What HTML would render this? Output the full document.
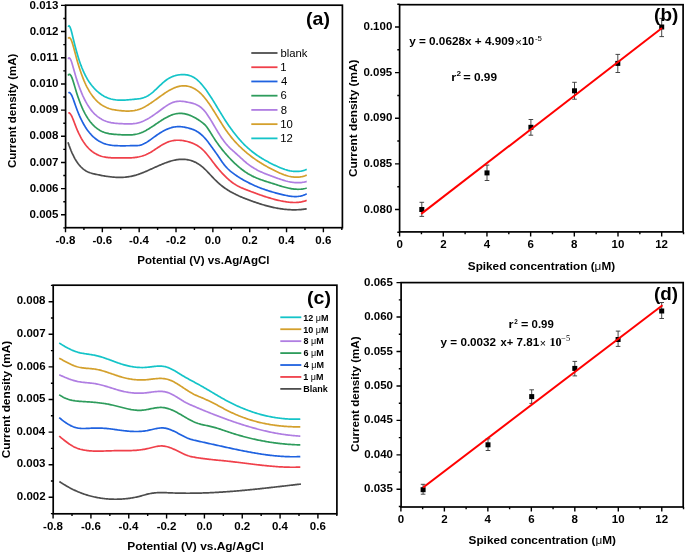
<!DOCTYPE html>
<html><head><meta charset="utf-8"><style>
html,body{margin:0;padding:0;background:#fff;}
svg{display:block;will-change:transform;}
</style></head><body>
<svg width="685" height="554" viewBox="0 0 685 554">
<rect width="685" height="554" fill="#fff"/>
<path d="M68.00,142.22L69.00,145.17L70.00,147.91L71.00,150.46L72.00,152.81L73.00,154.99L74.00,156.99L75.00,158.84L76.00,160.53L77.00,162.08L78.00,163.49L79.00,164.78L80.00,165.95L81.00,167.01L82.00,167.97L83.00,168.84L84.00,169.61L85.00,170.30L86.00,170.91L87.00,171.45L88.00,171.93L89.00,172.36L90.00,172.73L91.00,173.06L92.00,173.36L93.00,173.63L94.00,173.87L95.00,174.10L96.00,174.32L97.00,174.53L98.00,174.74L99.00,174.95L100.00,175.15L101.00,175.35L102.00,175.54L103.00,175.72L104.00,175.90L105.00,176.06L106.00,176.23L107.00,176.38L108.00,176.52L109.00,176.66L110.00,176.78L111.00,176.90L112.00,177.00L113.00,177.09L114.00,177.17L115.00,177.24L116.00,177.30L117.00,177.34L118.00,177.37L119.00,177.39L120.00,177.39L121.00,177.38L122.00,177.35L123.00,177.30L124.00,177.24L125.00,177.17L126.00,177.07L127.00,176.96L128.00,176.83L129.00,176.68L130.00,176.51L131.00,176.32L132.00,176.11L133.00,175.88L134.00,175.63L135.00,175.36L136.00,175.08L137.00,174.77L138.00,174.44L139.00,174.10L140.00,173.75L141.00,173.38L142.00,172.99L143.00,172.60L144.00,172.19L145.00,171.78L146.00,171.35L147.00,170.92L148.00,170.48L149.00,170.04L150.00,169.59L151.00,169.14L152.00,168.69L153.00,168.23L154.00,167.78L155.00,167.32L156.00,166.87L157.00,166.42L158.00,165.97L159.00,165.53L160.00,165.10L161.00,164.67L162.00,164.26L163.00,163.85L164.00,163.45L165.00,163.06L166.00,162.69L167.00,162.33L168.00,161.98L169.00,161.65L170.00,161.34L171.00,161.04L172.00,160.77L173.00,160.51L174.00,160.28L175.00,160.06L176.00,159.87L177.00,159.71L178.00,159.57L179.00,159.46L180.00,159.37L181.00,159.31L182.00,159.28L183.00,159.29L184.00,159.32L185.00,159.39L186.00,159.49L187.00,159.63L188.00,159.80L189.00,160.01L190.00,160.26L191.00,160.54L192.00,160.87L193.00,161.24L194.00,161.65L195.00,162.11L196.00,162.60L197.00,163.15L198.00,163.74L199.00,164.38L200.00,165.07L201.00,165.80L202.00,166.59L203.00,167.43L204.00,168.33L205.00,169.27L206.00,170.26L207.00,171.27L208.00,172.32L209.00,173.39L210.00,174.46L211.00,175.54L212.00,176.62L213.00,177.68L214.00,178.73L215.00,179.75L216.00,180.73L217.00,181.68L218.00,182.60L219.00,183.49L220.00,184.34L221.00,185.17L222.00,185.96L223.00,186.73L224.00,187.47L225.00,188.19L226.00,188.88L227.00,189.54L228.00,190.19L229.00,190.81L230.00,191.40L231.00,191.98L232.00,192.54L233.00,193.08L234.00,193.61L235.00,194.11L236.00,194.61L237.00,195.08L238.00,195.54L239.00,196.00L240.00,196.43L241.00,196.86L242.00,197.28L243.00,197.69L244.00,198.09L245.00,198.49L246.00,198.88L247.00,199.26L248.00,199.64L249.00,200.01L250.00,200.39L251.00,200.75L252.00,201.11L253.00,201.47L254.00,201.83L255.00,202.17L256.00,202.51L257.00,202.85L258.00,203.18L259.00,203.51L260.00,203.83L261.00,204.14L262.00,204.45L263.00,204.75L264.00,205.04L265.00,205.33L266.00,205.61L267.00,205.88L268.00,206.14L269.00,206.40L270.00,206.65L271.00,206.89L272.00,207.12L273.00,207.35L274.00,207.56L275.00,207.77L276.00,207.97L277.00,208.16L278.00,208.34L279.00,208.51L280.00,208.67L281.00,208.82L282.00,208.96L283.00,209.09L284.00,209.22L285.00,209.33L286.00,209.43L287.00,209.52L288.00,209.59L289.00,209.66L290.00,209.72L291.00,209.76L292.00,209.79L293.00,209.81L294.00,209.82L295.00,209.82L296.00,209.80L297.00,209.77L298.00,209.73L299.00,209.68L300.00,209.61L301.00,209.53L302.00,209.43L303.00,209.32L304.00,209.20L305.00,209.07L306.00,208.91L306.70,208.80" fill="none" stroke="#4d4d4d" stroke-width="1.7" stroke-linejoin="round"/>
<path d="M68.30,112.87L69.30,112.95L70.30,113.85L71.30,115.41L72.30,117.48L73.30,119.90L74.30,122.51L75.30,125.17L76.30,127.72L77.30,130.13L78.30,132.38L79.30,134.49L80.30,136.46L81.30,138.31L82.30,140.02L83.30,141.62L84.30,143.10L85.30,144.48L86.30,145.75L87.30,146.93L88.30,148.02L89.30,149.02L90.30,149.94L91.30,150.79L92.30,151.58L93.30,152.30L94.30,152.96L95.30,153.57L96.30,154.12L97.30,154.63L98.30,155.09L99.30,155.50L100.30,155.87L101.30,156.20L102.30,156.49L103.30,156.74L104.30,156.96L105.30,157.15L106.30,157.32L107.30,157.45L108.30,157.56L109.30,157.65L110.30,157.72L111.30,157.78L112.30,157.82L113.30,157.85L114.30,157.87L115.30,157.88L116.30,157.89L117.30,157.89L118.30,157.90L119.30,157.90L120.30,157.92L121.30,157.93L122.30,157.94L123.30,157.95L124.30,157.96L125.30,157.97L126.30,157.97L127.30,157.96L128.30,157.94L129.30,157.91L130.30,157.88L131.30,157.82L132.30,157.76L133.30,157.67L134.30,157.57L135.30,157.45L136.30,157.31L137.30,157.15L138.30,156.97L139.30,156.76L140.30,156.52L141.30,156.26L142.30,155.97L143.30,155.65L144.30,155.30L145.30,154.92L146.30,154.51L147.30,154.05L148.30,153.57L149.30,153.04L150.30,152.49L151.30,151.90L152.30,151.28L153.30,150.65L154.30,150.00L155.30,149.33L156.30,148.66L157.30,147.99L158.30,147.33L159.30,146.67L160.30,146.02L161.30,145.39L162.30,144.79L163.30,144.21L164.30,143.66L165.30,143.15L166.30,142.68L167.30,142.26L168.30,141.87L169.30,141.54L170.30,141.24L171.30,140.98L172.30,140.76L173.30,140.59L174.30,140.44L175.30,140.34L176.30,140.27L177.30,140.23L178.30,140.23L179.30,140.26L180.30,140.32L181.30,140.41L182.30,140.53L183.30,140.68L184.30,140.85L185.30,141.05L186.30,141.28L187.30,141.53L188.30,141.80L189.30,142.10L190.30,142.41L191.30,142.76L192.30,143.13L193.30,143.53L194.30,143.97L195.30,144.46L196.30,144.99L197.30,145.56L198.30,146.19L199.30,146.88L200.30,147.62L201.30,148.43L202.30,149.31L203.30,150.25L204.30,151.28L205.30,152.37L206.30,153.52L207.30,154.72L208.30,155.96L209.30,157.24L210.30,158.54L211.30,159.86L212.30,161.18L213.30,162.51L214.30,163.82L215.30,165.11L216.30,166.37L217.30,167.61L218.30,168.81L219.30,169.99L220.30,171.15L221.30,172.27L222.30,173.36L223.30,174.42L224.30,175.45L225.30,176.44L226.30,177.41L227.30,178.34L228.30,179.24L229.30,180.10L230.30,180.93L231.30,181.72L232.30,182.48L233.30,183.20L234.30,183.88L235.30,184.52L236.30,185.13L237.30,185.70L238.30,186.24L239.30,186.74L240.30,187.23L241.30,187.69L242.30,188.12L243.30,188.55L244.30,188.96L245.30,189.35L246.30,189.75L247.30,190.13L248.30,190.52L249.30,190.90L250.30,191.29L251.30,191.67L252.30,192.05L253.30,192.42L254.30,192.79L255.30,193.16L256.30,193.53L257.30,193.89L258.30,194.25L259.30,194.61L260.30,194.96L261.30,195.31L262.30,195.65L263.30,195.99L264.30,196.32L265.30,196.65L266.30,196.97L267.30,197.28L268.30,197.59L269.30,197.90L270.30,198.19L271.30,198.48L272.30,198.76L273.30,199.04L274.30,199.31L275.30,199.57L276.30,199.82L277.30,200.07L278.30,200.30L279.30,200.53L280.30,200.75L281.30,200.96L282.30,201.16L283.30,201.35L284.30,201.53L285.30,201.70L286.30,201.85L287.30,201.99L288.30,202.12L289.30,202.23L290.30,202.32L291.30,202.40L292.30,202.45L293.30,202.48L294.30,202.50L295.30,202.48L296.30,202.45L297.30,202.39L298.30,202.30L299.30,202.19L300.30,202.05L301.30,201.88L302.30,201.68L303.30,201.44L304.30,201.18L305.30,200.88L306.30,200.54L306.70,200.40" fill="none" stroke="#f0404a" stroke-width="1.7" stroke-linejoin="round"/>
<path d="M68.30,92.81L69.30,92.49L70.30,93.16L71.30,94.64L72.30,96.74L73.30,99.29L74.30,102.09L75.30,104.99L76.30,107.79L77.30,110.44L78.30,112.95L79.30,115.33L80.30,117.56L81.30,119.67L82.30,121.66L83.30,123.52L84.30,125.28L85.30,126.92L86.30,128.46L87.30,129.90L88.30,131.25L89.30,132.51L90.30,133.69L91.30,134.79L92.30,135.82L93.30,136.78L94.30,137.67L95.30,138.50L96.30,139.28L97.30,139.99L98.30,140.65L99.30,141.26L100.30,141.82L101.30,142.33L102.30,142.79L103.30,143.21L104.30,143.59L105.30,143.93L106.30,144.23L107.30,144.49L108.30,144.73L109.30,144.93L110.30,145.10L111.30,145.25L112.30,145.38L113.30,145.48L114.30,145.56L115.30,145.63L116.30,145.68L117.30,145.72L118.30,145.75L119.30,145.77L120.30,145.78L121.30,145.79L122.30,145.79L123.30,145.79L124.30,145.78L125.30,145.78L126.30,145.77L127.30,145.75L128.30,145.74L129.30,145.73L130.30,145.72L131.30,145.71L132.30,145.71L133.30,145.71L134.30,145.70L135.30,145.70L136.30,145.67L137.30,145.61L138.30,145.51L139.30,145.36L140.30,145.13L141.30,144.84L142.30,144.48L143.30,144.06L144.30,143.58L145.30,143.06L146.30,142.48L147.30,141.87L148.30,141.22L149.30,140.55L150.30,139.85L151.30,139.14L152.30,138.41L153.30,137.68L154.30,136.94L155.30,136.22L156.30,135.50L157.30,134.79L158.30,134.11L159.30,133.45L160.30,132.81L161.30,132.20L162.30,131.62L163.30,131.06L164.30,130.53L165.30,130.03L166.30,129.55L167.30,129.11L168.30,128.71L169.30,128.33L170.30,128.00L171.30,127.69L172.30,127.43L173.30,127.20L174.30,127.01L175.30,126.87L176.30,126.76L177.30,126.69L178.30,126.66L179.30,126.66L180.30,126.70L181.30,126.77L182.30,126.87L183.30,127.00L184.30,127.16L185.30,127.34L186.30,127.55L187.30,127.78L188.30,128.04L189.30,128.31L190.30,128.60L191.30,128.92L192.30,129.26L193.30,129.65L194.30,130.07L195.30,130.54L196.30,131.07L197.30,131.65L198.30,132.29L199.30,132.99L200.30,133.76L201.30,134.59L202.30,135.50L203.30,136.47L204.30,137.52L205.30,138.63L206.30,139.82L207.30,141.06L208.30,142.35L209.30,143.67L210.30,145.02L211.30,146.38L212.30,147.75L213.30,149.13L214.30,150.52L215.30,151.93L216.30,153.37L217.30,154.83L218.30,156.32L219.30,157.82L220.30,159.31L221.30,160.78L222.30,162.21L223.30,163.58L224.30,164.87L225.30,166.08L226.30,167.21L227.30,168.26L228.30,169.25L229.30,170.18L230.30,171.05L231.30,171.88L232.30,172.67L233.30,173.42L234.30,174.14L235.30,174.84L236.30,175.52L237.30,176.19L238.30,176.84L239.30,177.48L240.30,178.11L241.30,178.72L242.30,179.31L243.30,179.90L244.30,180.47L245.30,181.02L246.30,181.57L247.30,182.10L248.30,182.62L249.30,183.12L250.30,183.62L251.30,184.10L252.30,184.57L253.30,185.03L254.30,185.48L255.30,185.92L256.30,186.34L257.30,186.76L258.30,187.17L259.30,187.57L260.30,187.96L261.30,188.33L262.30,188.70L263.30,189.07L264.30,189.42L265.30,189.76L266.30,190.10L267.30,190.43L268.30,190.75L269.30,191.07L270.30,191.37L271.30,191.67L272.30,191.97L273.30,192.25L274.30,192.54L275.30,192.81L276.30,193.08L277.30,193.35L278.30,193.61L279.30,193.86L280.30,194.11L281.30,194.36L282.30,194.60L283.30,194.84L284.30,195.07L285.30,195.29L286.30,195.50L287.30,195.70L288.30,195.89L289.30,196.05L290.30,196.20L291.30,196.32L292.30,196.42L293.30,196.49L294.30,196.54L295.30,196.55L296.30,196.53L297.30,196.48L298.30,196.38L299.30,196.25L300.30,196.07L301.30,195.85L302.30,195.59L303.30,195.27L304.30,194.90L305.30,194.48L306.30,194.01L306.70,193.80" fill="none" stroke="#1f62e0" stroke-width="1.7" stroke-linejoin="round"/>
<path d="M68.00,75.58L69.00,74.33L70.00,74.45L71.00,75.71L72.00,77.87L73.00,80.70L74.00,83.94L75.00,87.38L76.00,90.76L77.00,93.97L78.00,96.99L79.00,99.84L80.00,102.52L81.00,105.03L82.00,107.39L83.00,109.60L84.00,111.66L85.00,113.59L86.00,115.39L87.00,117.06L88.00,118.62L89.00,120.07L90.00,121.41L91.00,122.66L92.00,123.81L93.00,124.89L94.00,125.89L95.00,126.81L96.00,127.66L97.00,128.44L98.00,129.16L99.00,129.81L100.00,130.41L101.00,130.95L102.00,131.44L103.00,131.88L104.00,132.27L105.00,132.62L106.00,132.93L107.00,133.20L108.00,133.43L109.00,133.64L110.00,133.81L111.00,133.96L112.00,134.09L113.00,134.20L114.00,134.30L115.00,134.38L116.00,134.44L117.00,134.51L118.00,134.57L119.00,134.62L120.00,134.68L121.00,134.74L122.00,134.80L123.00,134.85L124.00,134.90L125.00,134.93L126.00,134.96L127.00,134.97L128.00,134.97L129.00,134.96L130.00,134.92L131.00,134.87L132.00,134.79L133.00,134.69L134.00,134.56L135.00,134.40L136.00,134.22L137.00,134.00L138.00,133.74L139.00,133.45L140.00,133.13L141.00,132.76L142.00,132.35L143.00,131.91L144.00,131.43L145.00,130.93L146.00,130.40L147.00,129.84L148.00,129.26L149.00,128.65L150.00,128.03L151.00,127.40L152.00,126.75L153.00,126.09L154.00,125.42L155.00,124.75L156.00,124.07L157.00,123.40L158.00,122.72L159.00,122.05L160.00,121.39L161.00,120.73L162.00,120.09L163.00,119.46L164.00,118.85L165.00,118.26L166.00,117.69L167.00,117.15L168.00,116.63L169.00,116.14L170.00,115.69L171.00,115.27L172.00,114.88L173.00,114.54L174.00,114.24L175.00,113.98L176.00,113.78L177.00,113.61L178.00,113.49L179.00,113.42L180.00,113.39L181.00,113.40L182.00,113.46L183.00,113.56L184.00,113.69L185.00,113.87L186.00,114.09L187.00,114.35L188.00,114.64L189.00,114.98L190.00,115.34L191.00,115.75L192.00,116.19L193.00,116.67L194.00,117.18L195.00,117.72L196.00,118.30L197.00,118.91L198.00,119.55L199.00,120.22L200.00,120.92L201.00,121.64L202.00,122.40L203.00,123.19L204.00,124.00L205.00,124.91L206.00,126.01L207.00,127.29L208.00,128.71L209.00,130.24L210.00,131.82L211.00,133.42L212.00,135.02L213.00,136.60L214.00,138.16L215.00,139.69L216.00,141.18L217.00,142.63L218.00,144.05L219.00,145.43L220.00,146.77L221.00,148.08L222.00,149.35L223.00,150.60L224.00,151.81L225.00,153.00L226.00,154.16L227.00,155.29L228.00,156.40L229.00,157.48L230.00,158.54L231.00,159.58L232.00,160.60L233.00,161.59L234.00,162.57L235.00,163.52L236.00,164.45L237.00,165.35L238.00,166.24L239.00,167.09L240.00,167.93L241.00,168.73L242.00,169.52L243.00,170.27L244.00,171.00L245.00,171.71L246.00,172.38L247.00,173.03L248.00,173.66L249.00,174.25L250.00,174.82L251.00,175.36L252.00,175.88L253.00,176.38L254.00,176.86L255.00,177.31L256.00,177.75L257.00,178.17L258.00,178.58L259.00,178.97L260.00,179.35L261.00,179.71L262.00,180.06L263.00,180.41L264.00,180.74L265.00,181.07L266.00,181.39L267.00,181.71L268.00,182.03L269.00,182.34L270.00,182.65L271.00,182.96L272.00,183.27L273.00,183.59L274.00,183.91L275.00,184.23L276.00,184.55L277.00,184.88L278.00,185.20L279.00,185.51L280.00,185.83L281.00,186.14L282.00,186.44L283.00,186.73L284.00,187.02L285.00,187.29L286.00,187.55L287.00,187.80L288.00,188.03L289.00,188.25L290.00,188.45L291.00,188.63L292.00,188.80L293.00,188.94L294.00,189.06L295.00,189.15L296.00,189.22L297.00,189.27L298.00,189.28L299.00,189.27L300.00,189.23L301.00,189.16L302.00,189.05L303.00,188.91L304.00,188.73L305.00,188.52L306.00,188.27L306.70,188.07" fill="none" stroke="#2e9c5c" stroke-width="1.7" stroke-linejoin="round"/>
<path d="M68.00,58.93L69.00,57.82L70.00,58.41L71.00,60.32L72.00,63.19L73.00,66.64L74.00,70.31L75.00,73.85L76.00,77.20L77.00,80.37L78.00,83.37L79.00,86.20L80.00,88.89L81.00,91.43L82.00,93.84L83.00,96.11L84.00,98.25L85.00,100.26L86.00,102.15L87.00,103.92L88.00,105.57L89.00,107.11L90.00,108.54L91.00,109.87L92.00,111.11L93.00,112.26L94.00,113.32L95.00,114.31L96.00,115.22L97.00,116.07L98.00,116.85L99.00,117.58L100.00,118.25L101.00,118.86L102.00,119.43L103.00,119.95L104.00,120.42L105.00,120.84L106.00,121.23L107.00,121.57L108.00,121.88L109.00,122.16L110.00,122.40L111.00,122.62L112.00,122.80L113.00,122.96L114.00,123.10L115.00,123.23L116.00,123.33L117.00,123.42L118.00,123.49L119.00,123.56L120.00,123.62L121.00,123.67L122.00,123.72L123.00,123.77L124.00,123.81L125.00,123.85L126.00,123.88L127.00,123.90L128.00,123.91L129.00,123.91L130.00,123.89L131.00,123.85L132.00,123.79L133.00,123.71L134.00,123.60L135.00,123.47L136.00,123.31L137.00,123.12L138.00,122.90L139.00,122.64L140.00,122.34L141.00,122.00L142.00,121.63L143.00,121.22L144.00,120.78L145.00,120.31L146.00,119.80L147.00,119.27L148.00,118.70L149.00,118.12L150.00,117.51L151.00,116.87L152.00,116.22L153.00,115.55L154.00,114.86L155.00,114.15L156.00,113.43L157.00,112.70L158.00,111.96L159.00,111.22L160.00,110.47L161.00,109.72L162.00,108.98L163.00,108.24L164.00,107.53L165.00,106.83L166.00,106.15L167.00,105.50L168.00,104.88L169.00,104.30L170.00,103.76L171.00,103.26L172.00,102.81L173.00,102.41L174.00,102.06L175.00,101.78L176.00,101.56L177.00,101.39L178.00,101.29L179.00,101.23L180.00,101.21L181.00,101.24L182.00,101.30L183.00,101.40L184.00,101.53L185.00,101.68L186.00,101.85L187.00,102.04L188.00,102.25L189.00,102.46L190.00,102.67L191.00,102.90L192.00,103.14L193.00,103.41L194.00,103.72L195.00,104.07L196.00,104.46L197.00,104.92L198.00,105.44L199.00,106.03L200.00,106.70L201.00,107.47L202.00,108.32L203.00,109.29L204.00,110.36L205.00,111.55L206.00,112.83L207.00,114.21L208.00,115.66L209.00,117.18L210.00,118.76L211.00,120.39L212.00,122.05L213.00,123.74L214.00,125.45L215.00,127.15L216.00,128.86L217.00,130.54L218.00,132.20L219.00,133.82L220.00,135.40L221.00,136.94L222.00,138.42L223.00,139.85L224.00,141.22L225.00,142.53L226.00,143.76L227.00,144.93L228.00,146.03L229.00,147.07L230.00,148.07L231.00,149.02L232.00,149.95L233.00,150.85L234.00,151.74L235.00,152.62L236.00,153.50L237.00,154.39L238.00,155.29L239.00,156.21L240.00,157.12L241.00,158.04L242.00,158.96L243.00,159.86L244.00,160.76L245.00,161.63L246.00,162.48L247.00,163.31L248.00,164.10L249.00,164.86L250.00,165.59L251.00,166.29L252.00,166.95L253.00,167.59L254.00,168.21L255.00,168.80L256.00,169.36L257.00,169.90L258.00,170.43L259.00,170.93L260.00,171.41L261.00,171.88L262.00,172.33L263.00,172.76L264.00,173.19L265.00,173.60L266.00,174.00L267.00,174.39L268.00,174.78L269.00,175.16L270.00,175.53L271.00,175.90L272.00,176.27L273.00,176.64L274.00,177.00L275.00,177.37L276.00,177.74L277.00,178.10L278.00,178.45L279.00,178.80L280.00,179.15L281.00,179.48L282.00,179.81L283.00,180.12L284.00,180.42L285.00,180.71L286.00,180.99L287.00,181.24L288.00,181.49L289.00,181.71L290.00,181.92L291.00,182.10L292.00,182.26L293.00,182.40L294.00,182.52L295.00,182.61L296.00,182.67L297.00,182.71L298.00,182.71L299.00,182.69L300.00,182.63L301.00,182.55L302.00,182.43L303.00,182.27L304.00,182.08L305.00,181.85L306.00,181.58L306.70,181.36" fill="none" stroke="#b07ee2" stroke-width="1.7" stroke-linejoin="round"/>
<path d="M68.00,38.50L69.00,37.54L70.00,37.96L71.00,39.53L72.00,42.02L73.00,45.18L74.00,48.78L75.00,52.59L76.00,56.37L77.00,59.98L78.00,63.43L79.00,66.70L80.00,69.80L81.00,72.74L82.00,75.50L83.00,78.11L84.00,80.56L85.00,82.86L86.00,85.02L87.00,87.04L88.00,88.93L89.00,90.69L90.00,92.34L91.00,93.88L92.00,95.31L93.00,96.64L94.00,97.88L95.00,99.04L96.00,100.12L97.00,101.12L98.00,102.05L99.00,102.92L100.00,103.72L101.00,104.46L102.00,105.14L103.00,105.76L104.00,106.33L105.00,106.85L106.00,107.32L107.00,107.75L108.00,108.14L109.00,108.49L110.00,108.80L111.00,109.08L112.00,109.33L113.00,109.55L114.00,109.75L115.00,109.93L116.00,110.09L117.00,110.23L118.00,110.37L119.00,110.49L120.00,110.60L121.00,110.71L122.00,110.80L123.00,110.89L124.00,110.96L125.00,111.01L126.00,111.05L127.00,111.08L128.00,111.08L129.00,111.06L130.00,111.02L131.00,110.95L132.00,110.86L133.00,110.74L134.00,110.59L135.00,110.41L136.00,110.20L137.00,109.95L138.00,109.67L139.00,109.36L140.00,109.00L141.00,108.61L142.00,108.18L143.00,107.71L144.00,107.21L145.00,106.68L146.00,106.12L147.00,105.54L148.00,104.93L149.00,104.29L150.00,103.64L151.00,102.97L152.00,102.29L153.00,101.60L154.00,100.89L155.00,100.17L156.00,99.45L157.00,98.73L158.00,98.00L159.00,97.28L160.00,96.55L161.00,95.84L162.00,95.13L163.00,94.43L164.00,93.74L165.00,93.07L166.00,92.41L167.00,91.77L168.00,91.15L169.00,90.56L170.00,89.99L171.00,89.45L172.00,88.94L173.00,88.47L174.00,88.02L175.00,87.62L176.00,87.25L177.00,86.92L178.00,86.63L179.00,86.39L180.00,86.19L181.00,86.03L182.00,85.92L183.00,85.85L184.00,85.83L185.00,85.86L186.00,85.94L187.00,86.07L188.00,86.25L189.00,86.48L190.00,86.76L191.00,87.11L192.00,87.50L193.00,87.95L194.00,88.46L195.00,89.03L196.00,89.66L197.00,90.35L198.00,91.11L199.00,91.92L200.00,92.80L201.00,93.74L202.00,94.76L203.00,95.83L204.00,96.98L205.00,98.19L206.00,99.46L207.00,100.79L208.00,102.18L209.00,103.60L210.00,105.07L211.00,106.58L212.00,108.12L213.00,109.68L214.00,111.27L215.00,112.87L216.00,114.48L217.00,116.10L218.00,117.72L219.00,119.34L220.00,120.96L221.00,122.55L222.00,124.13L223.00,125.69L224.00,127.22L225.00,128.72L226.00,130.17L227.00,131.59L228.00,132.97L229.00,134.30L230.00,135.60L231.00,136.86L232.00,138.09L233.00,139.28L234.00,140.44L235.00,141.57L236.00,142.67L237.00,143.73L238.00,144.77L239.00,145.78L240.00,146.77L241.00,147.73L242.00,148.66L243.00,149.58L244.00,150.47L245.00,151.34L246.00,152.20L247.00,153.04L248.00,153.85L249.00,154.66L250.00,155.44L251.00,156.21L252.00,156.96L253.00,157.70L254.00,158.42L255.00,159.13L256.00,159.83L257.00,160.50L258.00,161.17L259.00,161.82L260.00,162.47L261.00,163.09L262.00,163.71L263.00,164.32L264.00,164.91L265.00,165.49L266.00,166.07L267.00,166.63L268.00,167.19L269.00,167.73L270.00,168.27L271.00,168.80L272.00,169.32L273.00,169.83L274.00,170.34L275.00,170.84L276.00,171.33L277.00,171.81L278.00,172.27L279.00,172.73L280.00,173.17L281.00,173.59L282.00,173.99L283.00,174.38L284.00,174.75L285.00,175.09L286.00,175.42L287.00,175.72L288.00,176.00L289.00,176.25L290.00,176.47L291.00,176.67L292.00,176.83L293.00,176.97L294.00,177.07L295.00,177.14L296.00,177.18L297.00,177.17L298.00,177.14L299.00,177.06L300.00,176.95L301.00,176.79L302.00,176.59L303.00,176.35L304.00,176.07L305.00,175.74L306.00,175.36L306.70,175.06" fill="none" stroke="#d4a02c" stroke-width="1.7" stroke-linejoin="round"/>
<path d="M68.00,26.76L69.00,25.73L70.00,26.95L71.00,29.78L72.00,33.59L73.00,37.74L74.00,41.80L75.00,45.72L76.00,49.49L77.00,53.08L78.00,56.48L79.00,59.67L80.00,62.65L81.00,65.43L82.00,68.01L83.00,70.42L84.00,72.66L85.00,74.74L86.00,76.67L87.00,78.46L88.00,80.13L89.00,81.68L90.00,83.13L91.00,84.48L92.00,85.74L93.00,86.93L94.00,88.06L95.00,89.12L96.00,90.12L97.00,91.07L98.00,91.95L99.00,92.78L100.00,93.56L101.00,94.28L102.00,94.95L103.00,95.57L104.00,96.14L105.00,96.67L106.00,97.15L107.00,97.59L108.00,97.99L109.00,98.35L110.00,98.67L111.00,98.96L112.00,99.21L113.00,99.43L114.00,99.61L115.00,99.77L116.00,99.90L117.00,100.00L118.00,100.08L119.00,100.13L120.00,100.17L121.00,100.18L122.00,100.18L123.00,100.15L124.00,100.12L125.00,100.07L126.00,100.01L127.00,99.94L128.00,99.86L129.00,99.77L130.00,99.68L131.00,99.59L132.00,99.49L133.00,99.40L134.00,99.30L135.00,99.21L136.00,99.11L137.00,99.00L138.00,98.87L139.00,98.72L140.00,98.55L141.00,98.35L142.00,98.11L143.00,97.83L144.00,97.51L145.00,97.15L146.00,96.72L147.00,96.24L148.00,95.70L149.00,95.09L150.00,94.41L151.00,93.67L152.00,92.87L153.00,92.03L154.00,91.15L155.00,90.24L156.00,89.30L157.00,88.35L158.00,87.38L159.00,86.42L160.00,85.46L161.00,84.51L162.00,83.59L163.00,82.69L164.00,81.83L165.00,81.01L166.00,80.24L167.00,79.53L168.00,78.87L169.00,78.27L170.00,77.72L171.00,77.22L172.00,76.77L173.00,76.37L174.00,76.01L175.00,75.70L176.00,75.43L177.00,75.21L178.00,75.02L179.00,74.87L180.00,74.76L181.00,74.68L182.00,74.63L183.00,74.62L184.00,74.64L185.00,74.70L186.00,74.80L187.00,74.95L188.00,75.15L189.00,75.40L190.00,75.70L191.00,76.07L192.00,76.49L193.00,76.99L194.00,77.55L195.00,78.18L196.00,78.89L197.00,79.68L198.00,80.55L199.00,81.50L200.00,82.51L201.00,83.59L202.00,84.73L203.00,85.94L204.00,87.20L205.00,88.51L206.00,89.87L207.00,91.27L208.00,92.72L209.00,94.20L210.00,95.71L211.00,97.26L212.00,98.83L213.00,100.42L214.00,102.04L215.00,103.66L216.00,105.30L217.00,106.95L218.00,108.59L219.00,110.24L220.00,111.89L221.00,113.52L222.00,115.15L223.00,116.76L224.00,118.35L225.00,119.92L226.00,121.47L227.00,122.98L228.00,124.47L229.00,125.92L230.00,127.35L231.00,128.75L232.00,130.12L233.00,131.46L234.00,132.77L235.00,134.05L236.00,135.30L237.00,136.53L238.00,137.72L239.00,138.89L240.00,140.03L241.00,141.14L242.00,142.22L243.00,143.27L244.00,144.29L245.00,145.29L246.00,146.26L247.00,147.19L248.00,148.10L249.00,148.99L250.00,149.85L251.00,150.68L252.00,151.49L253.00,152.28L254.00,153.04L255.00,153.79L256.00,154.51L257.00,155.21L258.00,155.89L259.00,156.56L260.00,157.21L261.00,157.84L262.00,158.45L263.00,159.05L264.00,159.64L265.00,160.21L266.00,160.77L267.00,161.32L268.00,161.85L269.00,162.38L270.00,162.90L271.00,163.41L272.00,163.91L273.00,164.40L274.00,164.89L275.00,165.37L276.00,165.84L277.00,166.31L278.00,166.76L279.00,167.19L280.00,167.62L281.00,168.02L282.00,168.42L283.00,168.79L284.00,169.14L285.00,169.48L286.00,169.79L287.00,170.08L288.00,170.35L289.00,170.59L290.00,170.81L291.00,170.99L292.00,171.15L293.00,171.28L294.00,171.38L295.00,171.44L296.00,171.47L297.00,171.46L298.00,171.42L299.00,171.34L300.00,171.23L301.00,171.07L302.00,170.87L303.00,170.62L304.00,170.34L305.00,170.01L306.00,169.63L306.70,169.33" fill="none" stroke="#14c4c8" stroke-width="1.7" stroke-linejoin="round"/>
<rect x="65.6" y="5.2" width="276.80" height="222.50" fill="none" stroke="#000" stroke-width="1.7"/>
<path d="M61.00,5.40H65.60M61.00,31.57H65.60M61.00,57.75H65.60M61.00,83.93H65.60M61.00,110.10H65.60M61.00,136.27H65.60M61.00,162.45H65.60M61.00,188.62H65.60M61.00,214.80H65.60M63.30,18.49H65.60M63.30,44.66H65.60M63.30,70.84H65.60M63.30,97.01H65.60M63.30,123.19H65.60M63.30,149.36H65.60M63.30,175.54H65.60M63.30,201.71H65.60M63.30,227.89H65.60" stroke="#000" stroke-width="1.4"/>
<text x="29.60" y="8.60" font-family="Liberation Sans" font-weight="bold" font-size="11.5">0.013</text>
<text x="29.70" y="34.77" font-family="Liberation Sans" font-weight="bold" font-size="11.5">0.012</text>
<text x="30.20" y="60.95" font-family="Liberation Sans" font-weight="bold" font-size="11.5">0.011</text>
<text x="29.70" y="87.13" font-family="Liberation Sans" font-weight="bold" font-size="11.5">0.010</text>
<text x="29.70" y="113.30" font-family="Liberation Sans" font-weight="bold" font-size="11.5">0.009</text>
<text x="29.60" y="139.47" font-family="Liberation Sans" font-weight="bold" font-size="11.5">0.008</text>
<text x="29.70" y="165.65" font-family="Liberation Sans" font-weight="bold" font-size="11.5">0.007</text>
<text x="29.70" y="191.82" font-family="Liberation Sans" font-weight="bold" font-size="11.5">0.006</text>
<text x="29.60" y="218.00" font-family="Liberation Sans" font-weight="bold" font-size="11.5">0.005</text>
<path d="M65.50,227.70V232.30M102.34,227.70V232.30M139.18,227.70V232.30M176.02,227.70V232.30M212.86,227.70V232.30M249.70,227.70V232.30M286.54,227.70V232.30M323.38,227.70V232.30M83.92,227.70V230.00M120.76,227.70V230.00M157.60,227.70V230.00M194.44,227.70V230.00M231.28,227.70V230.00M268.12,227.70V230.00M304.96,227.70V230.00M341.80,227.70V230.00" stroke="#000" stroke-width="1.4"/>
<text x="55.50" y="244.10" font-family="Liberation Sans" font-weight="bold" font-size="11.5">-0.8</text>
<text x="92.39" y="244.10" font-family="Liberation Sans" font-weight="bold" font-size="11.5">-0.6</text>
<text x="129.03" y="244.10" font-family="Liberation Sans" font-weight="bold" font-size="11.5">-0.4</text>
<text x="166.07" y="244.10" font-family="Liberation Sans" font-weight="bold" font-size="11.5">-0.2</text>
<text x="204.86" y="244.10" font-family="Liberation Sans" font-weight="bold" font-size="11.5">0.0</text>
<text x="241.70" y="244.10" font-family="Liberation Sans" font-weight="bold" font-size="11.5">0.2</text>
<text x="278.34" y="244.10" font-family="Liberation Sans" font-weight="bold" font-size="11.5">0.4</text>
<text x="315.33" y="244.10" font-family="Liberation Sans" font-weight="bold" font-size="11.5">0.6</text>
<text x="137.27" y="263.80" font-family="Liberation Sans" font-weight="bold" font-size="11.2" textLength="132.24" lengthAdjust="spacingAndGlyphs" fill="#000">Potential (V) vs.Ag/AgCl</text>
<text transform="translate(16.00,167.50) rotate(-90)" x="-0.51" y="0" font-family="Liberation Sans" font-weight="bold" font-size="11.2" textLength="114.42" lengthAdjust="spacingAndGlyphs">Current density (mA)</text>
<text x="306.07" y="24.60" font-family="Liberation Sans" font-weight="bold" font-size="19" textLength="23.87" lengthAdjust="spacingAndGlyphs" fill="#000">(a)</text>
<line x1="251.3" y1="53.00" x2="277.5" y2="53.00" stroke="#4d4d4d" stroke-width="1.8"/>
<text x="280.50" y="56.70" font-family="Liberation Sans" font-weight="normal" font-size="11.3">blank</text>
<line x1="251.3" y1="67.23" x2="277.5" y2="67.23" stroke="#f0404a" stroke-width="1.8"/>
<text x="280.30" y="70.93" font-family="Liberation Sans" font-weight="normal" font-size="11.3">1</text>
<line x1="251.3" y1="81.46" x2="277.5" y2="81.46" stroke="#1f62e0" stroke-width="1.8"/>
<text x="280.90" y="85.16" font-family="Liberation Sans" font-weight="normal" font-size="11.3">4</text>
<line x1="251.3" y1="95.69" x2="277.5" y2="95.69" stroke="#2e9c5c" stroke-width="1.8"/>
<text x="280.60" y="99.39" font-family="Liberation Sans" font-weight="normal" font-size="11.3">6</text>
<line x1="251.3" y1="109.92" x2="277.5" y2="109.92" stroke="#b07ee2" stroke-width="1.8"/>
<text x="280.70" y="113.62" font-family="Liberation Sans" font-weight="normal" font-size="11.3">8</text>
<line x1="251.3" y1="124.15" x2="277.5" y2="124.15" stroke="#d4a02c" stroke-width="1.8"/>
<text x="280.30" y="127.85" font-family="Liberation Sans" font-weight="normal" font-size="11.3">10</text>
<line x1="251.3" y1="138.38" x2="277.5" y2="138.38" stroke="#14c4c8" stroke-width="1.8"/>
<text x="280.30" y="142.08" font-family="Liberation Sans" font-weight="normal" font-size="11.3">12</text>
<path d="M395.00,27.00H399.60M395.00,72.63H399.60M395.00,118.25H399.60M395.00,163.88H399.60M395.00,209.50H399.60M397.30,4.19H399.60M397.30,49.81H399.60M397.30,95.44H399.60M397.30,141.06H399.60M397.30,186.69H399.60M397.30,232.31H399.60" stroke="#000" stroke-width="1.4"/>
<text x="363.50" y="30.20" font-family="Liberation Sans" font-weight="bold" font-size="11.5">0.100</text>
<text x="363.40" y="75.83" font-family="Liberation Sans" font-weight="bold" font-size="11.5">0.095</text>
<text x="363.50" y="121.45" font-family="Liberation Sans" font-weight="bold" font-size="11.5">0.090</text>
<text x="363.40" y="167.07" font-family="Liberation Sans" font-weight="bold" font-size="11.5">0.085</text>
<text x="363.50" y="212.70" font-family="Liberation Sans" font-weight="bold" font-size="11.5">0.080</text>
<path d="M399.60,231.90V236.50M443.28,231.90V236.50M486.96,231.90V236.50M530.64,231.90V236.50M574.32,231.90V236.50M618.00,231.90V236.50M661.68,231.90V236.50M421.44,231.90V234.20M465.12,231.90V234.20M508.80,231.90V234.20M552.48,231.90V234.20M596.16,231.90V234.20M639.84,231.90V234.20M683.52,231.90V234.20" stroke="#000" stroke-width="1.4"/>
<text x="396.40" y="248.30" font-family="Liberation Sans" font-weight="bold" font-size="11.5">0</text>
<text x="440.13" y="248.30" font-family="Liberation Sans" font-weight="bold" font-size="11.5">2</text>
<text x="483.71" y="248.30" font-family="Liberation Sans" font-weight="bold" font-size="11.5">4</text>
<text x="527.44" y="248.30" font-family="Liberation Sans" font-weight="bold" font-size="11.5">6</text>
<text x="571.12" y="248.30" font-family="Liberation Sans" font-weight="bold" font-size="11.5">8</text>
<text x="611.50" y="248.30" font-family="Liberation Sans" font-weight="bold" font-size="11.5">10</text>
<text x="655.18" y="248.30" font-family="Liberation Sans" font-weight="bold" font-size="11.5">12</text>
<rect x="399.6" y="4.7" width="283.50" height="227.20" fill="none" stroke="#000" stroke-width="1.7"/>
<path d="M421.8,202.3V216.4M419.5,202.3h4.6M419.5,216.4h4.6" stroke="#333" stroke-width="0.9" fill="none"/>
<rect x="419.3" y="207.0" width="5" height="5" fill="#000"/>
<path d="M487.0,165.1V180.5M484.7,165.1h4.6M484.7,180.5h4.6" stroke="#333" stroke-width="0.9" fill="none"/>
<rect x="484.5" y="170.4" width="5" height="5" fill="#000"/>
<path d="M530.9,119.5V135.2M528.6,119.5h4.6M528.6,135.2h4.6" stroke="#333" stroke-width="0.9" fill="none"/>
<rect x="528.4" y="124.8" width="5" height="5" fill="#000"/>
<path d="M574.5,82.3V99.2M572.2,82.3h4.6M572.2,99.2h4.6" stroke="#333" stroke-width="0.9" fill="none"/>
<rect x="572.0" y="88.3" width="5" height="5" fill="#000"/>
<path d="M617.8,54.4V72.5M615.5,54.4h4.6M615.5,72.5h4.6" stroke="#333" stroke-width="0.9" fill="none"/>
<rect x="615.3" y="60.9" width="5" height="5" fill="#000"/>
<path d="M661.7,18.4V36.6M659.4,18.4h4.6M659.4,36.6h4.6" stroke="#333" stroke-width="0.9" fill="none"/>
<rect x="659.2" y="24.5" width="5" height="5" fill="#000"/>
<line x1="421.2" y1="213.9" x2="662" y2="28" stroke="#f00" stroke-width="2"/>
<text x="467.79" y="269.90" font-family="Liberation Sans" font-weight="bold" font-size="11.5" textLength="147.33" lengthAdjust="spacingAndGlyphs" fill="#000">Spiked concentration (<tspan font-weight="normal">μ</tspan>M)</text>
<text transform="translate(357.20,176.50) rotate(-90)" x="-0.53" y="0" font-family="Liberation Sans" font-weight="bold" font-size="11.2" textLength="117.55" lengthAdjust="spacingAndGlyphs">Current density (mA)</text>
<text x="654.08" y="21.20" font-family="Liberation Sans" font-weight="bold" font-size="18.6" textLength="24.18" lengthAdjust="spacingAndGlyphs" fill="#000">(b)</text>
<text x="409.18" y="45.00" font-family="Liberation Sans" font-weight="bold" font-size="10.2" textLength="105.10" lengthAdjust="spacingAndGlyphs" fill="#000">y = 0.0628x + 4.909</text>
<text x="514.96" y="45.60" font-family="Liberation Sans" font-weight="normal" font-size="10" textLength="7.04" lengthAdjust="spacingAndGlyphs" fill="#000">×</text>
<text x="521.92" y="44.90" font-family="Liberation Sans" font-weight="bold" font-size="11.5" textLength="12.35" lengthAdjust="spacingAndGlyphs" fill="#000">10</text>
<text x="535.01" y="40.80" font-family="Liberation Sans" font-weight="normal" font-size="8" textLength="7.00" lengthAdjust="spacingAndGlyphs" fill="#000">-5</text>
<text x="451.30" y="81.30" font-family="Liberation Sans" font-weight="bold" font-size="11" textLength="4.91" lengthAdjust="spacingAndGlyphs" fill="#000">r</text>
<text x="456.59" y="76.00" font-family="Liberation Sans" font-weight="bold" font-size="8" textLength="4.57" lengthAdjust="spacingAndGlyphs" fill="#000">2</text>
<text x="463.32" y="81.30" font-family="Liberation Sans" font-weight="bold" font-size="11" textLength="7.48" lengthAdjust="spacingAndGlyphs" fill="#000">=</text>
<text x="473.97" y="81.30" font-family="Liberation Sans" font-weight="bold" font-size="11" textLength="23.07" lengthAdjust="spacingAndGlyphs" fill="#000">0.99</text>
<path d="M59.40,481.51L60.40,482.19L61.40,482.85L62.40,483.50L63.40,484.13L64.40,484.75L65.40,485.35L66.40,485.94L67.40,486.51L68.40,487.07L69.40,487.62L70.40,488.15L71.40,488.67L72.40,489.17L73.40,489.67L74.40,490.14L75.40,490.61L76.40,491.06L77.40,491.49L78.40,491.92L79.40,492.33L80.40,492.73L81.40,493.11L82.40,493.48L83.40,493.84L84.40,494.19L85.40,494.52L86.40,494.85L87.40,495.16L88.40,495.45L89.40,495.74L90.40,496.01L91.40,496.27L92.40,496.52L93.40,496.76L94.40,496.99L95.40,497.20L96.40,497.41L97.40,497.60L98.40,497.78L99.40,497.95L100.40,498.11L101.40,498.25L102.40,498.39L103.40,498.52L104.40,498.63L105.40,498.74L106.40,498.83L107.40,498.92L108.40,498.99L109.40,499.06L110.40,499.11L111.40,499.15L112.40,499.19L113.40,499.21L114.40,499.23L115.40,499.23L116.40,499.23L117.40,499.22L118.40,499.19L119.40,499.16L120.40,499.12L121.40,499.07L122.40,499.01L123.40,498.94L124.40,498.86L125.40,498.77L126.40,498.67L127.40,498.56L128.40,498.44L129.40,498.30L130.40,498.16L131.40,498.01L132.40,497.84L133.40,497.67L134.40,497.48L135.40,497.28L136.40,497.07L137.40,496.84L138.40,496.60L139.40,496.36L140.40,496.09L141.40,495.82L142.40,495.55L143.40,495.27L144.40,494.99L145.40,494.71L146.40,494.44L147.40,494.19L148.40,493.95L149.40,493.72L150.40,493.52L151.40,493.34L152.40,493.19L153.40,493.06L154.40,492.94L155.40,492.85L156.40,492.77L157.40,492.71L158.40,492.66L159.40,492.63L160.40,492.61L161.40,492.61L162.40,492.61L163.40,492.62L164.40,492.64L165.40,492.67L166.40,492.70L167.40,492.74L168.40,492.78L169.40,492.82L170.40,492.86L171.40,492.90L172.40,492.94L173.40,492.98L174.40,493.01L175.40,493.04L176.40,493.07L177.40,493.10L178.40,493.12L179.40,493.15L180.40,493.16L181.40,493.18L182.40,493.20L183.40,493.21L184.40,493.22L185.40,493.22L186.40,493.23L187.40,493.23L188.40,493.23L189.40,493.23L190.40,493.22L191.40,493.22L192.40,493.21L193.40,493.20L194.40,493.19L195.40,493.17L196.40,493.15L197.40,493.13L198.40,493.11L199.40,493.09L200.40,493.06L201.40,493.04L202.40,493.01L203.40,492.97L204.40,492.94L205.40,492.91L206.40,492.87L207.40,492.83L208.40,492.79L209.40,492.75L210.40,492.70L211.40,492.66L212.40,492.61L213.40,492.56L214.40,492.51L215.40,492.45L216.40,492.40L217.40,492.34L218.40,492.28L219.40,492.22L220.40,492.16L221.40,492.10L222.40,492.04L223.40,491.97L224.40,491.90L225.40,491.83L226.40,491.76L227.40,491.69L228.40,491.62L229.40,491.54L230.40,491.47L231.40,491.39L232.40,491.31L233.40,491.23L234.40,491.15L235.40,491.07L236.40,490.99L237.40,490.90L238.40,490.81L239.40,490.73L240.40,490.64L241.40,490.55L242.40,490.46L243.40,490.37L244.40,490.28L245.40,490.18L246.40,490.09L247.40,489.99L248.40,489.90L249.40,489.80L250.40,489.70L251.40,489.60L252.40,489.50L253.40,489.40L254.40,489.30L255.40,489.19L256.40,489.09L257.40,488.99L258.40,488.88L259.40,488.78L260.40,488.67L261.40,488.56L262.40,488.46L263.40,488.35L264.40,488.24L265.40,488.13L266.40,488.02L267.40,487.91L268.40,487.80L269.40,487.69L270.40,487.57L271.40,487.46L272.40,487.35L273.40,487.24L274.40,487.12L275.40,487.01L276.40,486.89L277.40,486.78L278.40,486.66L279.40,486.55L280.40,486.43L281.40,486.32L282.40,486.20L283.40,486.09L284.40,485.97L285.40,485.85L286.40,485.74L287.40,485.62L288.40,485.50L289.40,485.39L290.40,485.27L291.40,485.15L292.40,485.04L293.40,484.92L294.40,484.80L295.40,484.69L296.40,484.57L297.40,484.45L298.40,484.34L299.40,484.22L300.40,484.10L300.90,484.05" fill="none" stroke="#4d4d4d" stroke-width="1.7" stroke-linejoin="round"/>
<path d="M59.20,436.09L60.20,436.94L61.20,437.78L62.20,438.61L63.20,439.43L64.20,440.23L65.20,441.01L66.20,441.78L67.20,442.52L68.20,443.24L69.20,443.93L70.20,444.59L71.20,445.22L72.20,445.82L73.20,446.38L74.20,446.90L75.20,447.38L76.20,447.82L77.20,448.22L78.20,448.58L79.20,448.90L80.20,449.20L81.20,449.46L82.20,449.69L83.20,449.91L84.20,450.10L85.20,450.27L86.20,450.42L87.20,450.56L88.20,450.68L89.20,450.78L90.20,450.87L91.20,450.95L92.20,451.01L93.20,451.05L94.20,451.09L95.20,451.12L96.20,451.13L97.20,451.14L98.20,451.14L99.20,451.13L100.20,451.12L101.20,451.10L102.20,451.07L103.20,451.05L104.20,451.01L105.20,450.98L106.20,450.95L107.20,450.91L108.20,450.87L109.20,450.84L110.20,450.81L111.20,450.78L112.20,450.76L113.20,450.74L114.20,450.72L115.20,450.71L116.20,450.70L117.20,450.69L118.20,450.69L119.20,450.69L120.20,450.69L121.20,450.69L122.20,450.69L123.20,450.68L124.20,450.68L125.20,450.67L126.20,450.67L127.20,450.65L128.20,450.64L129.20,450.61L130.20,450.59L131.20,450.55L132.20,450.52L133.20,450.47L134.20,450.41L135.20,450.35L136.20,450.28L137.20,450.20L138.20,450.10L139.20,450.00L140.20,449.88L141.20,449.76L142.20,449.61L143.20,449.46L144.20,449.29L145.20,449.11L146.20,448.91L147.20,448.69L148.20,448.46L149.20,448.22L150.20,447.97L151.20,447.71L152.20,447.46L153.20,447.21L154.20,446.97L155.20,446.74L156.20,446.54L157.20,446.36L158.20,446.21L159.20,446.09L160.20,446.00L161.20,445.97L162.20,445.97L163.20,446.03L164.20,446.14L165.20,446.30L166.20,446.50L167.20,446.74L168.20,447.03L169.20,447.35L170.20,447.70L171.20,448.08L172.20,448.49L173.20,448.93L174.20,449.38L175.20,449.85L176.20,450.33L177.20,450.83L178.20,451.32L179.20,451.82L180.20,452.31L181.20,452.80L182.20,453.28L183.20,453.74L184.20,454.19L185.20,454.62L186.20,455.02L187.20,455.39L188.20,455.73L189.20,456.04L190.20,456.32L191.20,456.57L192.20,456.80L193.20,457.01L194.20,457.20L195.20,457.38L196.20,457.55L197.20,457.72L198.20,457.87L199.20,458.03L200.20,458.17L201.20,458.31L202.20,458.45L203.20,458.58L204.20,458.71L205.20,458.84L206.20,458.96L207.20,459.08L208.20,459.19L209.20,459.30L210.20,459.41L211.20,459.52L212.20,459.62L213.20,459.73L214.20,459.83L215.20,459.93L216.20,460.03L217.20,460.13L218.20,460.23L219.20,460.32L220.20,460.42L221.20,460.52L222.20,460.62L223.20,460.72L224.20,460.82L225.20,460.92L226.20,461.03L227.20,461.13L228.20,461.24L229.20,461.35L230.20,461.46L231.20,461.57L232.20,461.69L233.20,461.80L234.20,461.92L235.20,462.04L236.20,462.16L237.20,462.28L238.20,462.40L239.20,462.52L240.20,462.64L241.20,462.77L242.20,462.89L243.20,463.02L244.20,463.14L245.20,463.26L246.20,463.39L247.20,463.51L248.20,463.64L249.20,463.76L250.20,463.88L251.20,464.01L252.20,464.13L253.20,464.25L254.20,464.37L255.20,464.49L256.20,464.61L257.20,464.73L258.20,464.84L259.20,464.96L260.20,465.07L261.20,465.18L262.20,465.29L263.20,465.40L264.20,465.51L265.20,465.61L266.20,465.71L267.20,465.81L268.20,465.91L269.20,466.00L270.20,466.10L271.20,466.19L272.20,466.27L273.20,466.36L274.20,466.44L275.20,466.51L276.20,466.59L277.20,466.66L278.20,466.73L279.20,466.79L280.20,466.85L281.20,466.91L282.20,466.96L283.20,467.01L284.20,467.05L285.20,467.09L286.20,467.13L287.20,467.16L288.20,467.19L289.20,467.21L290.20,467.23L291.20,467.24L292.20,467.25L293.20,467.25L294.20,467.25L295.20,467.24L296.20,467.22L297.20,467.21L298.20,467.18L299.20,467.15L300.20,467.11L300.30,467.11" fill="none" stroke="#f0404a" stroke-width="1.7" stroke-linejoin="round"/>
<path d="M59.20,417.60L60.20,418.44L61.20,419.26L62.20,420.05L63.20,420.82L64.20,421.57L65.20,422.29L66.20,422.97L67.20,423.62L68.20,424.24L69.20,424.82L70.20,425.37L71.20,425.87L72.20,426.33L73.20,426.75L74.20,427.11L75.20,427.44L76.20,427.71L77.20,427.93L78.20,428.12L79.20,428.26L80.20,428.37L81.20,428.45L82.20,428.49L83.20,428.52L84.20,428.52L85.20,428.50L86.20,428.46L87.20,428.42L88.20,428.37L89.20,428.31L90.20,428.25L91.20,428.20L92.20,428.15L93.20,428.11L94.20,428.08L95.20,428.06L96.20,428.05L97.20,428.05L98.20,428.06L99.20,428.08L100.20,428.11L101.20,428.14L102.20,428.19L103.20,428.25L104.20,428.31L105.20,428.39L106.20,428.47L107.20,428.56L108.20,428.66L109.20,428.77L110.20,428.88L111.20,429.01L112.20,429.14L113.20,429.27L114.20,429.41L115.20,429.55L116.20,429.69L117.20,429.84L118.20,429.98L119.20,430.12L120.20,430.25L121.20,430.39L122.20,430.51L123.20,430.64L124.20,430.75L125.20,430.87L126.20,430.97L127.20,431.07L128.20,431.16L129.20,431.24L130.20,431.31L131.20,431.37L132.20,431.43L133.20,431.47L134.20,431.50L135.20,431.52L136.20,431.52L137.20,431.52L138.20,431.50L139.20,431.46L140.20,431.42L141.20,431.35L142.20,431.27L143.20,431.17L144.20,431.06L145.20,430.92L146.20,430.76L147.20,430.59L148.20,430.39L149.20,430.18L150.20,429.95L151.20,429.71L152.20,429.48L153.20,429.24L154.20,429.01L155.20,428.79L156.20,428.58L157.20,428.39L158.20,428.23L159.20,428.10L160.20,428.01L161.20,427.95L162.20,427.93L163.20,427.97L164.20,428.05L165.20,428.19L166.20,428.39L167.20,428.63L168.20,428.91L169.20,429.24L170.20,429.60L171.20,429.99L172.20,430.42L173.20,430.87L174.20,431.34L175.20,431.83L176.20,432.34L177.20,432.86L178.20,433.39L179.20,433.92L180.20,434.46L181.20,434.99L182.20,435.51L183.20,436.03L184.20,436.53L185.20,437.02L186.20,437.48L187.20,437.93L188.20,438.34L189.20,438.72L190.20,439.08L191.20,439.40L192.20,439.69L193.20,439.96L194.20,440.22L195.20,440.45L196.20,440.68L197.20,440.90L198.20,441.12L199.20,441.34L200.20,441.56L201.20,441.78L202.20,442.00L203.20,442.22L204.20,442.45L205.20,442.67L206.20,442.89L207.20,443.11L208.20,443.33L209.20,443.55L210.20,443.77L211.20,444.00L212.20,444.22L213.20,444.44L214.20,444.66L215.20,444.88L216.20,445.10L217.20,445.32L218.20,445.54L219.20,445.76L220.20,445.98L221.20,446.20L222.20,446.42L223.20,446.64L224.20,446.86L225.20,447.08L226.20,447.30L227.20,447.52L228.20,447.73L229.20,447.95L230.20,448.17L231.20,448.38L232.20,448.60L233.20,448.81L234.20,449.02L235.20,449.23L236.20,449.44L237.20,449.65L238.20,449.86L239.20,450.07L240.20,450.27L241.20,450.47L242.20,450.67L243.20,450.87L244.20,451.07L245.20,451.27L246.20,451.46L247.20,451.65L248.20,451.84L249.20,452.03L250.20,452.21L251.20,452.40L252.20,452.58L253.20,452.75L254.20,452.93L255.20,453.10L256.20,453.27L257.20,453.44L258.20,453.60L259.20,453.76L260.20,453.92L261.20,454.07L262.20,454.22L263.20,454.37L264.20,454.51L265.20,454.65L266.20,454.79L267.20,454.92L268.20,455.05L269.20,455.17L270.20,455.29L271.20,455.41L272.20,455.52L273.20,455.63L274.20,455.73L275.20,455.83L276.20,455.93L277.20,456.02L278.20,456.10L279.20,456.18L280.20,456.26L281.20,456.33L282.20,456.39L283.20,456.46L284.20,456.51L285.20,456.56L286.20,456.61L287.20,456.65L288.20,456.68L289.20,456.71L290.20,456.73L291.20,456.75L292.20,456.76L293.20,456.76L294.20,456.76L295.20,456.76L296.20,456.74L297.20,456.72L298.20,456.70L299.20,456.67L300.20,456.63L300.30,456.62" fill="none" stroke="#1f62e0" stroke-width="1.7" stroke-linejoin="round"/>
<path d="M59.20,394.69L60.20,395.38L61.20,396.02L62.20,396.61L63.20,397.16L64.20,397.66L65.20,398.12L66.20,398.54L67.20,398.92L68.20,399.27L69.20,399.58L70.20,399.86L71.20,400.11L72.20,400.34L73.20,400.54L74.20,400.71L75.20,400.87L76.20,401.00L77.20,401.12L78.20,401.22L79.20,401.31L80.20,401.39L81.20,401.46L82.20,401.52L83.20,401.58L84.20,401.63L85.20,401.68L86.20,401.74L87.20,401.79L88.20,401.85L89.20,401.92L90.20,401.99L91.20,402.06L92.20,402.14L93.20,402.23L94.20,402.32L95.20,402.41L96.20,402.51L97.20,402.62L98.20,402.73L99.20,402.85L100.20,402.97L101.20,403.10L102.20,403.24L103.20,403.38L104.20,403.53L105.20,403.69L106.20,403.86L107.20,404.03L108.20,404.21L109.20,404.40L110.20,404.60L111.20,404.81L112.20,405.02L113.20,405.24L114.20,405.48L115.20,405.72L116.20,405.96L117.20,406.22L118.20,406.48L119.20,406.74L120.20,407.00L121.20,407.26L122.20,407.53L123.20,407.78L124.20,408.04L125.20,408.29L126.20,408.53L127.20,408.76L128.20,408.98L129.20,409.20L130.20,409.39L131.20,409.58L132.20,409.74L133.20,409.89L134.20,410.03L135.20,410.14L136.20,410.22L137.20,410.29L138.20,410.33L139.20,410.34L140.20,410.33L141.20,410.29L142.20,410.21L143.20,410.11L144.20,409.98L145.20,409.83L146.20,409.67L147.20,409.48L148.20,409.29L149.20,409.09L150.20,408.89L151.20,408.68L152.20,408.48L153.20,408.29L154.20,408.11L155.20,407.94L156.20,407.80L157.20,407.67L158.20,407.57L159.20,407.50L160.20,407.46L161.20,407.46L162.20,407.49L163.20,407.58L164.20,407.70L165.20,407.87L166.20,408.08L167.20,408.33L168.20,408.61L169.20,408.94L170.20,409.30L171.20,409.69L172.20,410.11L173.20,410.56L174.20,411.03L175.20,411.53L176.20,412.05L177.20,412.59L178.20,413.14L179.20,413.70L180.20,414.28L181.20,414.86L182.20,415.45L183.20,416.04L184.20,416.63L185.20,417.22L186.20,417.80L187.20,418.38L188.20,418.95L189.20,419.50L190.20,420.04L191.20,420.56L192.20,421.06L193.20,421.54L194.20,421.99L195.20,422.41L196.20,422.81L197.20,423.17L198.20,423.50L199.20,423.80L200.20,424.08L201.20,424.35L202.20,424.59L203.20,424.82L204.20,425.05L205.20,425.27L206.20,425.48L207.20,425.70L208.20,425.92L209.20,426.14L210.20,426.37L211.20,426.60L212.20,426.84L213.20,427.08L214.20,427.34L215.20,427.61L216.20,427.90L217.20,428.20L218.20,428.51L219.20,428.83L220.20,429.16L221.20,429.49L222.20,429.83L223.20,430.18L224.20,430.53L225.20,430.87L226.20,431.22L227.20,431.56L228.20,431.90L229.20,432.23L230.20,432.56L231.20,432.89L232.20,433.21L233.20,433.52L234.20,433.84L235.20,434.14L236.20,434.45L237.20,434.75L238.20,435.04L239.20,435.33L240.20,435.62L241.20,435.90L242.20,436.18L243.20,436.46L244.20,436.72L245.20,436.99L246.20,437.25L247.20,437.51L248.20,437.76L249.20,438.01L250.20,438.25L251.20,438.49L252.20,438.73L253.20,438.96L254.20,439.18L255.20,439.41L256.20,439.62L257.20,439.84L258.20,440.05L259.20,440.25L260.20,440.45L261.20,440.65L262.20,440.84L263.20,441.03L264.20,441.21L265.20,441.39L266.20,441.57L267.20,441.74L268.20,441.90L269.20,442.06L270.20,442.22L271.20,442.37L272.20,442.52L273.20,442.67L274.20,442.81L275.20,442.94L276.20,443.07L277.20,443.20L278.20,443.32L279.20,443.44L280.20,443.55L281.20,443.66L282.20,443.77L283.20,443.87L284.20,443.96L285.20,444.06L286.20,444.14L287.20,444.23L288.20,444.30L289.20,444.38L290.20,444.45L291.20,444.51L292.20,444.57L293.20,444.63L294.20,444.68L295.20,444.73L296.20,444.77L297.20,444.81L298.20,444.85L299.20,444.88L300.20,444.90L300.30,444.90" fill="none" stroke="#2e9c5c" stroke-width="1.7" stroke-linejoin="round"/>
<path d="M59.20,374.80L60.20,375.25L61.20,375.70L62.20,376.14L63.20,376.57L64.20,377.00L65.20,377.42L66.20,377.83L67.20,378.23L68.20,378.61L69.20,378.99L70.20,379.34L71.20,379.69L72.20,380.02L73.20,380.33L74.20,380.62L75.20,380.89L76.20,381.14L77.20,381.38L78.20,381.59L79.20,381.77L80.20,381.94L81.20,382.09L82.20,382.23L83.20,382.35L84.20,382.46L85.20,382.56L86.20,382.66L87.20,382.75L88.20,382.85L89.20,382.94L90.20,383.04L91.20,383.15L92.20,383.26L93.20,383.39L94.20,383.53L95.20,383.68L96.20,383.86L97.20,384.05L98.20,384.26L99.20,384.48L100.20,384.72L101.20,384.97L102.20,385.23L103.20,385.51L104.20,385.79L105.20,386.08L106.20,386.38L107.20,386.68L108.20,386.99L109.20,387.30L110.20,387.61L111.20,387.93L112.20,388.24L113.20,388.56L114.20,388.87L115.20,389.18L116.20,389.48L117.20,389.78L118.20,390.07L119.20,390.35L120.20,390.62L121.20,390.88L122.20,391.13L123.20,391.36L124.20,391.59L125.20,391.79L126.20,391.99L127.20,392.17L128.20,392.33L129.20,392.48L130.20,392.62L131.20,392.75L132.20,392.85L133.20,392.95L134.20,393.03L135.20,393.09L136.20,393.14L137.20,393.18L138.20,393.20L139.20,393.20L140.20,393.19L141.20,393.17L142.20,393.13L143.20,393.08L144.20,393.01L145.20,392.92L146.20,392.82L147.20,392.71L148.20,392.58L149.20,392.45L150.20,392.31L151.20,392.17L152.20,392.03L153.20,391.90L154.20,391.78L155.20,391.66L156.20,391.56L157.20,391.48L158.20,391.42L159.20,391.38L160.20,391.38L161.20,391.40L162.20,391.45L163.20,391.55L164.20,391.68L165.20,391.85L166.20,392.08L167.20,392.35L168.20,392.68L169.20,393.05L170.20,393.47L171.20,393.94L172.20,394.44L173.20,394.97L174.20,395.53L175.20,396.12L176.20,396.72L177.20,397.33L178.20,397.96L179.20,398.59L180.20,399.22L181.20,399.84L182.20,400.46L183.20,401.06L184.20,401.64L185.20,402.19L186.20,402.73L187.20,403.24L188.20,403.73L189.20,404.20L190.20,404.66L191.20,405.10L192.20,405.54L193.20,405.97L194.20,406.40L195.20,406.83L196.20,407.26L197.20,407.68L198.20,408.11L199.20,408.53L200.20,408.95L201.20,409.36L202.20,409.78L203.20,410.19L204.20,410.60L205.20,411.01L206.20,411.42L207.20,411.83L208.20,412.23L209.20,412.63L210.20,413.03L211.20,413.43L212.20,413.82L213.20,414.22L214.20,414.61L215.20,414.99L216.20,415.38L217.20,415.77L218.20,416.15L219.20,416.53L220.20,416.90L221.20,417.28L222.20,417.65L223.20,418.02L224.20,418.39L225.20,418.76L226.20,419.12L227.20,419.48L228.20,419.84L229.20,420.20L230.20,420.55L231.20,420.90L232.20,421.25L233.20,421.59L234.20,421.94L235.20,422.28L236.20,422.61L237.20,422.95L238.20,423.28L239.20,423.61L240.20,423.93L241.20,424.26L242.20,424.58L243.20,424.89L244.20,425.20L245.20,425.51L246.20,425.82L247.20,426.12L248.20,426.42L249.20,426.72L250.20,427.01L251.20,427.30L252.20,427.58L253.20,427.87L254.20,428.14L255.20,428.42L256.20,428.69L257.20,428.95L258.20,429.22L259.20,429.48L260.20,429.73L261.20,429.98L262.20,430.23L263.20,430.47L264.20,430.71L265.20,430.94L266.20,431.17L267.20,431.40L268.20,431.62L269.20,431.84L270.20,432.05L271.20,432.26L272.20,432.46L273.20,432.66L274.20,432.85L275.20,433.04L276.20,433.23L277.20,433.40L278.20,433.58L279.20,433.75L280.20,433.92L281.20,434.08L282.20,434.23L283.20,434.38L284.20,434.53L285.20,434.67L286.20,434.80L287.20,434.93L288.20,435.05L289.20,435.17L290.20,435.28L291.20,435.39L292.20,435.49L293.20,435.59L294.20,435.68L295.20,435.77L296.20,435.85L297.20,435.92L298.20,435.99L299.20,436.05L300.20,436.11L300.30,436.11" fill="none" stroke="#b07ee2" stroke-width="1.7" stroke-linejoin="round"/>
<path d="M59.20,358.19L60.20,358.74L61.20,359.29L62.20,359.84L63.20,360.39L64.20,360.94L65.20,361.48L66.20,362.01L67.20,362.54L68.20,363.05L69.20,363.55L70.20,364.03L71.20,364.49L72.20,364.93L73.20,365.35L74.20,365.75L75.20,366.12L76.20,366.45L77.20,366.76L78.20,367.04L79.20,367.28L80.20,367.49L81.20,367.67L82.20,367.83L83.20,367.96L84.20,368.08L85.20,368.18L86.20,368.28L87.20,368.36L88.20,368.44L89.20,368.52L90.20,368.60L91.20,368.69L92.20,368.79L93.20,368.90L94.20,369.02L95.20,369.16L96.20,369.33L97.20,369.51L98.20,369.72L99.20,369.94L100.20,370.19L101.20,370.44L102.20,370.72L103.20,371.00L104.20,371.30L105.20,371.61L106.20,371.93L107.20,372.25L108.20,372.59L109.20,372.93L110.20,373.27L111.20,373.62L112.20,373.96L113.20,374.31L114.20,374.66L115.20,375.00L116.20,375.34L117.20,375.67L118.20,376.00L119.20,376.32L120.20,376.63L121.20,376.93L122.20,377.22L123.20,377.50L124.20,377.76L125.20,378.01L126.20,378.24L127.20,378.46L128.20,378.66L129.20,378.85L130.20,379.03L131.20,379.19L132.20,379.34L133.20,379.47L134.20,379.58L135.20,379.68L136.20,379.77L137.20,379.84L138.20,379.89L139.20,379.93L140.20,379.95L141.20,379.96L142.20,379.95L143.20,379.92L144.20,379.88L145.20,379.82L146.20,379.75L147.20,379.66L148.20,379.55L149.20,379.44L150.20,379.32L151.20,379.20L152.20,379.07L153.20,378.95L154.20,378.84L155.20,378.73L156.20,378.64L157.20,378.56L158.20,378.50L159.20,378.45L160.20,378.44L161.20,378.45L162.20,378.49L163.20,378.56L164.20,378.67L165.20,378.81L166.20,379.00L167.20,379.24L168.20,379.52L169.20,379.85L170.20,380.22L171.20,380.64L172.20,381.09L173.20,381.58L174.20,382.09L175.20,382.64L176.20,383.21L177.20,383.81L178.20,384.43L179.20,385.06L180.20,385.70L181.20,386.36L182.20,387.02L183.20,387.69L184.20,388.35L185.20,389.02L186.20,389.68L187.20,390.33L188.20,390.98L189.20,391.60L190.20,392.21L191.20,392.80L192.20,393.37L193.20,393.91L194.20,394.43L195.20,394.91L196.20,395.37L197.20,395.82L198.20,396.25L199.20,396.67L200.20,397.08L201.20,397.50L202.20,397.91L203.20,398.34L204.20,398.77L205.20,399.21L206.20,399.66L207.20,400.12L208.20,400.58L209.20,401.05L210.20,401.53L211.20,402.02L212.20,402.51L213.20,403.02L214.20,403.53L215.20,404.04L216.20,404.57L217.20,405.10L218.20,405.64L219.20,406.18L220.20,406.72L221.20,407.26L222.20,407.81L223.20,408.35L224.20,408.88L225.20,409.41L226.20,409.94L227.20,410.45L228.20,410.96L229.20,411.45L230.20,411.94L231.20,412.42L232.20,412.89L233.20,413.35L234.20,413.80L235.20,414.24L236.20,414.67L237.20,415.09L238.20,415.51L239.20,415.92L240.20,416.31L241.20,416.70L242.20,417.08L243.20,417.45L244.20,417.82L245.20,418.17L246.20,418.52L247.20,418.86L248.20,419.19L249.20,419.51L250.20,419.83L251.20,420.14L252.20,420.43L253.20,420.73L254.20,421.01L255.20,421.29L256.20,421.55L257.20,421.82L258.20,422.07L259.20,422.32L260.20,422.55L261.20,422.79L262.20,423.01L263.20,423.23L264.20,423.44L265.20,423.64L266.20,423.84L267.20,424.03L268.20,424.21L269.20,424.39L270.20,424.56L271.20,424.72L272.20,424.88L273.20,425.03L274.20,425.17L275.20,425.31L276.20,425.44L277.20,425.57L278.20,425.69L279.20,425.80L280.20,425.91L281.20,426.01L282.20,426.10L283.20,426.19L284.20,426.28L285.20,426.36L286.20,426.43L287.20,426.50L288.20,426.56L289.20,426.61L290.20,426.67L291.20,426.71L292.20,426.75L293.20,426.79L294.20,426.82L295.20,426.85L296.20,426.87L297.20,426.88L298.20,426.89L299.20,426.90L300.20,426.90L300.30,426.90" fill="none" stroke="#d4a02c" stroke-width="1.7" stroke-linejoin="round"/>
<path d="M59.20,342.99L60.20,343.63L61.20,344.26L62.20,344.88L63.20,345.48L64.20,346.07L65.20,346.65L66.20,347.21L67.20,347.75L68.20,348.28L69.20,348.78L70.20,349.27L71.20,349.74L72.20,350.18L73.20,350.60L74.20,351.00L75.20,351.38L76.20,351.72L77.20,352.04L78.20,352.34L79.20,352.60L80.20,352.85L81.20,353.06L82.20,353.26L83.20,353.45L84.20,353.62L85.20,353.77L86.20,353.92L87.20,354.07L88.20,354.21L89.20,354.35L90.20,354.49L91.20,354.64L92.20,354.80L93.20,354.97L94.20,355.15L95.20,355.35L96.20,355.57L97.20,355.80L98.20,356.06L99.20,356.33L100.20,356.61L101.20,356.91L102.20,357.22L103.20,357.55L104.20,357.88L105.20,358.22L106.20,358.58L107.20,358.93L108.20,359.30L109.20,359.66L110.20,360.03L111.20,360.41L112.20,360.78L113.20,361.15L114.20,361.52L115.20,361.89L116.20,362.26L117.20,362.62L118.20,362.97L119.20,363.31L120.20,363.65L121.20,363.98L122.20,364.29L123.20,364.59L124.20,364.88L125.20,365.16L126.20,365.42L127.20,365.67L128.20,365.90L129.20,366.12L130.20,366.33L131.20,366.52L132.20,366.69L133.20,366.85L134.20,366.99L135.20,367.12L136.20,367.23L137.20,367.32L138.20,367.40L139.20,367.46L140.20,367.50L141.20,367.52L142.20,367.53L143.20,367.51L144.20,367.48L145.20,367.43L146.20,367.36L147.20,367.27L148.20,367.17L149.20,367.06L150.20,366.93L151.20,366.81L152.20,366.68L153.20,366.56L154.20,366.45L155.20,366.34L156.20,366.25L157.20,366.18L158.20,366.13L159.20,366.11L160.20,366.11L161.20,366.15L162.20,366.22L163.20,366.33L164.20,366.49L165.20,366.69L166.20,366.94L167.20,367.25L168.20,367.60L169.20,368.00L170.20,368.44L171.20,368.92L172.20,369.43L173.20,369.97L174.20,370.53L175.20,371.11L176.20,371.71L177.20,372.32L178.20,372.94L179.20,373.57L180.20,374.19L181.20,374.80L182.20,375.41L183.20,376.01L184.20,376.60L185.20,377.17L186.20,377.74L187.20,378.30L188.20,378.86L189.20,379.41L190.20,379.95L191.20,380.49L192.20,381.03L193.20,381.57L194.20,382.10L195.20,382.64L196.20,383.18L197.20,383.72L198.20,384.27L199.20,384.82L200.20,385.38L201.20,385.94L202.20,386.51L203.20,387.09L204.20,387.66L205.20,388.25L206.20,388.83L207.20,389.42L208.20,390.01L209.20,390.60L210.20,391.20L211.20,391.79L212.20,392.38L213.20,392.98L214.20,393.57L215.20,394.16L216.20,394.75L217.20,395.34L218.20,395.93L219.20,396.51L220.20,397.08L221.20,397.66L222.20,398.23L223.20,398.79L224.20,399.34L225.20,399.90L226.20,400.44L227.20,400.98L228.20,401.50L229.20,402.02L230.20,402.54L231.20,403.04L232.20,403.54L233.20,404.03L234.20,404.51L235.20,404.99L236.20,405.45L237.20,405.91L238.20,406.36L239.20,406.81L240.20,407.24L241.20,407.67L242.20,408.09L243.20,408.50L244.20,408.91L245.20,409.30L246.20,409.69L247.20,410.07L248.20,410.45L249.20,410.81L250.20,411.17L251.20,411.52L252.20,411.86L253.20,412.20L254.20,412.53L255.20,412.84L256.20,413.16L257.20,413.46L258.20,413.76L259.20,414.04L260.20,414.32L261.20,414.60L262.20,414.86L263.20,415.12L264.20,415.37L265.20,415.61L266.20,415.84L267.20,416.07L268.20,416.28L269.20,416.49L270.20,416.69L271.20,416.89L272.20,417.08L273.20,417.25L274.20,417.42L275.20,417.59L276.20,417.74L277.20,417.89L278.20,418.03L279.20,418.16L280.20,418.28L281.20,418.40L282.20,418.51L283.20,418.61L284.20,418.70L285.20,418.78L286.20,418.86L287.20,418.93L288.20,418.99L289.20,419.04L290.20,419.08L291.20,419.12L292.20,419.15L293.20,419.17L294.20,419.18L295.20,419.19L296.20,419.19L297.20,419.18L298.20,419.16L299.20,419.13L300.20,419.10L300.30,419.09" fill="none" stroke="#14c4c8" stroke-width="1.7" stroke-linejoin="round"/>
<rect x="53.2" y="285.2" width="283.70" height="228.60" fill="none" stroke="#000" stroke-width="1.7"/>
<path d="M48.60,301.70H53.20M48.60,334.30H53.20M48.60,366.90H53.20M48.60,399.50H53.20M48.60,432.10H53.20M48.60,464.70H53.20M48.60,497.30H53.20M50.90,285.40H53.20M50.90,318.00H53.20M50.90,350.60H53.20M50.90,383.20H53.20M50.90,415.80H53.20M50.90,448.40H53.20M50.90,481.00H53.20M50.90,513.60H53.20" stroke="#000" stroke-width="1.4"/>
<text x="16.70" y="304.30" font-family="Liberation Sans" font-weight="bold" font-size="11.5">0.008</text>
<text x="16.80" y="336.90" font-family="Liberation Sans" font-weight="bold" font-size="11.5">0.007</text>
<text x="16.80" y="369.50" font-family="Liberation Sans" font-weight="bold" font-size="11.5">0.006</text>
<text x="16.70" y="402.10" font-family="Liberation Sans" font-weight="bold" font-size="11.5">0.005</text>
<text x="16.40" y="434.70" font-family="Liberation Sans" font-weight="bold" font-size="11.5">0.004</text>
<text x="16.70" y="467.30" font-family="Liberation Sans" font-weight="bold" font-size="11.5">0.003</text>
<text x="16.80" y="499.90" font-family="Liberation Sans" font-weight="bold" font-size="11.5">0.002</text>
<path d="M53.10,513.80V518.40M90.93,513.80V518.40M128.76,513.80V518.40M166.59,513.80V518.40M204.42,513.80V518.40M242.25,513.80V518.40M280.08,513.80V518.40M317.91,513.80V518.40M72.02,513.80V516.10M109.85,513.80V516.10M147.68,513.80V516.10M185.51,513.80V516.10M223.34,513.80V516.10M261.17,513.80V516.10M299.00,513.80V516.10M336.83,513.80V516.10" stroke="#000" stroke-width="1.4"/>
<text x="43.10" y="530.30" font-family="Liberation Sans" font-weight="bold" font-size="11.5">-0.8</text>
<text x="80.98" y="530.30" font-family="Liberation Sans" font-weight="bold" font-size="11.5">-0.6</text>
<text x="118.61" y="530.30" font-family="Liberation Sans" font-weight="bold" font-size="11.5">-0.4</text>
<text x="156.64" y="530.30" font-family="Liberation Sans" font-weight="bold" font-size="11.5">-0.2</text>
<text x="196.42" y="530.30" font-family="Liberation Sans" font-weight="bold" font-size="11.5">0.0</text>
<text x="234.25" y="530.30" font-family="Liberation Sans" font-weight="bold" font-size="11.5">0.2</text>
<text x="271.88" y="530.30" font-family="Liberation Sans" font-weight="bold" font-size="11.5">0.4</text>
<text x="309.86" y="530.30" font-family="Liberation Sans" font-weight="bold" font-size="11.5">0.6</text>
<text x="127.25" y="550.40" font-family="Liberation Sans" font-weight="bold" font-size="11.2" textLength="136.49" lengthAdjust="spacingAndGlyphs" fill="#000">Potential (V) vs.Ag/AgCl</text>
<text transform="translate(9.60,457.80) rotate(-90)" x="-0.53" y="0" font-family="Liberation Sans" font-weight="bold" font-size="11.2" textLength="117.55" lengthAdjust="spacingAndGlyphs">Current density (mA)</text>
<text x="307.07" y="303.60" font-family="Liberation Sans" font-weight="bold" font-size="19" textLength="23.87" lengthAdjust="spacingAndGlyphs" fill="#000">(c)</text>
<line x1="280.3" y1="317.30" x2="301.3" y2="317.30" stroke="#14c4c8" stroke-width="1.8"/>
<text x="303.20" y="320.60" font-family="Liberation Sans" font-weight="bold" font-size="9.0">12 <tspan font-weight="normal">μ</tspan>M</text>
<line x1="280.3" y1="329.23" x2="301.3" y2="329.23" stroke="#d4a02c" stroke-width="1.8"/>
<text x="303.20" y="332.53" font-family="Liberation Sans" font-weight="bold" font-size="9.0">10 <tspan font-weight="normal">μ</tspan>M</text>
<line x1="280.3" y1="341.16" x2="301.3" y2="341.16" stroke="#b07ee2" stroke-width="1.8"/>
<text x="303.50" y="344.46" font-family="Liberation Sans" font-weight="bold" font-size="9.0">8 <tspan font-weight="normal">μ</tspan>M</text>
<line x1="280.3" y1="353.09" x2="301.3" y2="353.09" stroke="#2e9c5c" stroke-width="1.8"/>
<text x="303.50" y="356.39" font-family="Liberation Sans" font-weight="bold" font-size="9.0">6 <tspan font-weight="normal">μ</tspan>M</text>
<line x1="280.3" y1="365.02" x2="301.3" y2="365.02" stroke="#1f62e0" stroke-width="1.8"/>
<text x="303.70" y="368.32" font-family="Liberation Sans" font-weight="bold" font-size="9.0">4 <tspan font-weight="normal">μ</tspan>M</text>
<line x1="280.3" y1="376.95" x2="301.3" y2="376.95" stroke="#f0404a" stroke-width="1.8"/>
<text x="303.20" y="380.25" font-family="Liberation Sans" font-weight="bold" font-size="9.0">1 <tspan font-weight="normal">μ</tspan>M</text>
<line x1="280.3" y1="388.88" x2="301.3" y2="388.88" stroke="#4d4d4d" stroke-width="1.8"/>
<text x="303.20" y="392.18" font-family="Liberation Sans" font-weight="bold" font-size="9.0">Blank</text>
<path d="M396.50,282.60H401.10M396.50,317.05H401.10M396.50,351.50H401.10M396.50,385.95H401.10M396.50,420.40H401.10M396.50,454.85H401.10M396.50,489.30H401.10M398.80,299.83H401.10M398.80,334.28H401.10M398.80,368.73H401.10M398.80,403.18H401.10M398.80,437.63H401.10M398.80,472.08H401.10M398.80,506.53H401.10" stroke="#000" stroke-width="1.4"/>
<text x="364.10" y="285.60" font-family="Liberation Sans" font-weight="bold" font-size="11.5">0.065</text>
<text x="364.20" y="320.05" font-family="Liberation Sans" font-weight="bold" font-size="11.5">0.060</text>
<text x="364.10" y="354.50" font-family="Liberation Sans" font-weight="bold" font-size="11.5">0.055</text>
<text x="364.20" y="388.95" font-family="Liberation Sans" font-weight="bold" font-size="11.5">0.050</text>
<text x="364.10" y="423.40" font-family="Liberation Sans" font-weight="bold" font-size="11.5">0.045</text>
<text x="364.20" y="457.85" font-family="Liberation Sans" font-weight="bold" font-size="11.5">0.040</text>
<text x="364.10" y="492.30" font-family="Liberation Sans" font-weight="bold" font-size="11.5">0.035</text>
<path d="M400.90,507.00V511.60M444.38,507.00V511.60M487.86,507.00V511.60M531.34,507.00V511.60M574.82,507.00V511.60M618.30,507.00V511.60M661.78,507.00V511.60M422.64,507.00V509.30M466.12,507.00V509.30M509.60,507.00V509.30M553.08,507.00V509.30M596.56,507.00V509.30M640.04,507.00V509.30M683.52,507.00V509.30" stroke="#000" stroke-width="1.4"/>
<text x="397.70" y="523.30" font-family="Liberation Sans" font-weight="bold" font-size="11.5">0</text>
<text x="441.23" y="523.30" font-family="Liberation Sans" font-weight="bold" font-size="11.5">2</text>
<text x="484.61" y="523.30" font-family="Liberation Sans" font-weight="bold" font-size="11.5">4</text>
<text x="528.14" y="523.30" font-family="Liberation Sans" font-weight="bold" font-size="11.5">6</text>
<text x="571.62" y="523.30" font-family="Liberation Sans" font-weight="bold" font-size="11.5">8</text>
<text x="611.80" y="523.30" font-family="Liberation Sans" font-weight="bold" font-size="11.5">10</text>
<text x="655.28" y="523.30" font-family="Liberation Sans" font-weight="bold" font-size="11.5">12</text>
<rect x="401.1" y="282.6" width="282.10" height="224.40" fill="none" stroke="#000" stroke-width="1.7"/>
<path d="M423.1,484.3V494.2M420.8,484.3h4.6M420.8,494.2h4.6" stroke="#333" stroke-width="0.9" fill="none"/>
<rect x="420.6" y="487.2" width="5" height="5" fill="#000"/>
<path d="M488.0,438.8V450.5M485.7,438.8h4.6M485.7,450.5h4.6" stroke="#333" stroke-width="0.9" fill="none"/>
<rect x="485.5" y="442.3" width="5" height="5" fill="#000"/>
<path d="M531.7,389.8V403.4M529.4,389.8h4.6M529.4,403.4h4.6" stroke="#333" stroke-width="0.9" fill="none"/>
<rect x="529.2" y="394.1" width="5" height="5" fill="#000"/>
<path d="M574.8,361.4V375.9M572.5,361.4h4.6M572.5,375.9h4.6" stroke="#333" stroke-width="0.9" fill="none"/>
<rect x="572.3" y="365.9" width="5" height="5" fill="#000"/>
<path d="M618.1,331.1V346.4M615.8,331.1h4.6M615.8,346.4h4.6" stroke="#333" stroke-width="0.9" fill="none"/>
<rect x="615.6" y="337.0" width="5" height="5" fill="#000"/>
<path d="M661.7,302.5V318.5M659.4,302.5h4.6M659.4,318.5h4.6" stroke="#333" stroke-width="0.9" fill="none"/>
<rect x="659.2" y="308.5" width="5" height="5" fill="#000"/>
<line x1="423.1" y1="487.5" x2="662.5" y2="305.2" stroke="#f00" stroke-width="2"/>
<text x="468.59" y="544.30" font-family="Liberation Sans" font-weight="bold" font-size="11.5" textLength="147.43" lengthAdjust="spacingAndGlyphs" fill="#000">Spiked concentration (<tspan font-weight="normal">μ</tspan>M)</text>
<text transform="translate(358.60,451.50) rotate(-90)" x="-0.52" y="0" font-family="Liberation Sans" font-weight="bold" font-size="11.2" textLength="115.63" lengthAdjust="spacingAndGlyphs">Current density (mA)</text>
<text x="653.91" y="299.80" font-family="Liberation Sans" font-weight="bold" font-size="19" textLength="24.04" lengthAdjust="spacingAndGlyphs" fill="#000">(d)</text>
<text x="508.43" y="328.20" font-family="Liberation Sans" font-weight="bold" font-size="11.8" textLength="4.97" lengthAdjust="spacingAndGlyphs" fill="#000">r</text>
<text x="514.26" y="323.80" font-family="Liberation Sans" font-weight="bold" font-size="8" textLength="3.51" lengthAdjust="spacingAndGlyphs" fill="#000">2</text>
<text x="521.07" y="328.20" font-family="Liberation Sans" font-weight="bold" font-size="11.8" textLength="7.36" lengthAdjust="spacingAndGlyphs" fill="#000">=</text>
<text x="531.62" y="328.20" font-family="Liberation Sans" font-weight="bold" font-size="11.8" textLength="22.13" lengthAdjust="spacingAndGlyphs" fill="#000">0.99</text>
<text x="440.60" y="345.60" font-family="Liberation Sans" font-weight="bold" font-size="11.8" textLength="55.50" lengthAdjust="spacingAndGlyphs" fill="#000">y = 0.0032</text>
<text x="500.51" y="345.60" font-family="Liberation Sans" font-weight="bold" font-size="11.8" textLength="12.72" lengthAdjust="spacingAndGlyphs" fill="#000">x+</text>
<text x="516.61" y="345.60" font-family="Liberation Sans" font-weight="bold" font-size="11.8" textLength="22.55" lengthAdjust="spacingAndGlyphs" fill="#000">7.81</text>
<text x="539.85" y="346.80" font-family="Liberation Sans" font-weight="normal" font-size="10" textLength="6.24" lengthAdjust="spacingAndGlyphs" fill="#000">×</text>
<text x="549.48" y="345.80" font-family="Liberation Serif" font-weight="bold" font-size="12" textLength="12.23" lengthAdjust="spacingAndGlyphs" fill="#000">10</text>
<text x="561.20" y="341.20" font-family="Liberation Serif" font-weight="normal" font-size="8.5" textLength="8.93" lengthAdjust="spacingAndGlyphs" fill="#000">−5</text>
</svg>
</body></html>
